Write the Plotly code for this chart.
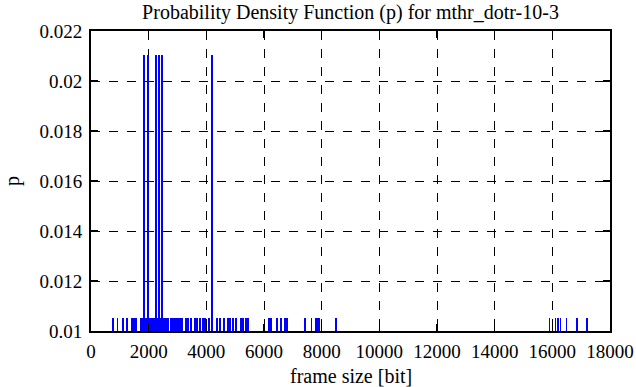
import plotly.graph_objects as go

# frame sizes [bit] observed once (p = 1/95)
frame_single = [764, 920, 1104, 1243, 1424, 1493, 1563, 1736, 1788, 1892, 1927,
                2031, 2083, 2135, 2188, 2222, 2309, 2413, 2517, 2569, 2622, 2674,
                2778, 2830, 2882, 2934, 2986, 3038, 3090, 3160, 3299, 3368, 3472,
                3594, 3681, 3767, 3889, 3941, 4090, 4358, 4479, 4618, 4750, 4833,
                4931, 5035, 5191, 5271, 5365, 5444, 6174, 6257, 6458, 6580, 6736,
                6806, 7413, 7646, 7795, 7865, 7927, 8483, 15903, 16111, 16191,
                16285, 16493, 16858, 17205]
# frame sizes observed twice (p = 2/95)
frame_double = [1830, 1972, 2255, 2360, 2465, 4208]

p_single = 0.010526
p_double = 0.021053

x_vals = frame_single + frame_double
y_vals = [p_single] * len(frame_single) + [p_double] * len(frame_double)

x_ticks = [0, 2000, 4000, 6000, 8000, 10000, 12000, 14000, 16000, 18000]
y_ticks = [0.01, 0.012, 0.014, 0.016, 0.018, 0.02, 0.022]

FONT = "Liberation Serif"
L, R, T, B = 91, 26, 31, 56
W, H = 636, 387
pw, ph = W - L - R, H - T - B

fig = go.Figure()
fig.add_trace(go.Bar(x=x_vals, y=y_vals, width=64,
                     marker=dict(color="#0000ff", line=dict(width=0))))

axis_common = dict(showline=True, linecolor="black", linewidth=2, mirror="allticks",
                   ticks="inside", ticklen=7, tickwidth=1.5, tickcolor="black",
                   showgrid=True, gridcolor="black", griddash="dash", gridwidth=1,
                   zeroline=False, automargin=False,
                   tickfont=dict(family=FONT, size=19, color="black"))

fig.update_layout(
    width=W, height=H,
    margin=dict(l=L, r=R, t=T, b=B, autoexpand=False),
    paper_bgcolor="white", plot_bgcolor="white",
    showlegend=False, bargap=0,
    title=dict(text="Probability Density Function (p) for mthr_dotr-10-3",
               x=(L + W - R) / 2 / W, xanchor="center",
               y=1 - 12 / H, yanchor="middle", yref="container",
               font=dict(family=FONT, size=20, color="black")),
    xaxis=dict(range=[0, 18000], tickvals=x_ticks, tickformat="d",
               ticklabelstandoff=2, **axis_common),
    yaxis=dict(range=[0.01, 0.022], tickvals=y_ticks,
               ticktext=[f"{v:g}" for v in y_ticks],
               ticklabelstandoff=3, **axis_common),
    annotations=[
        dict(text="frame size [bit]", xref="paper", yref="paper",
             x=0.5, y=-(376 - (T + ph)) / ph, xanchor="center", yanchor="middle",
             showarrow=False, font=dict(family=FONT, size=20, color="black")),
        dict(text="p", xref="paper", yref="paper",
             x=-(L - 12) / pw, y=0.5, xanchor="center", yanchor="middle",
             textangle=-90, showarrow=False,
             font=dict(family=FONT, size=20, color="black")),
    ],
)

fig.write_html("out.html",
               config={"displayModeBar": False, "staticPlot": True},
               post_script="document.body.style.margin='0';document.body.style.overflow='hidden';")
